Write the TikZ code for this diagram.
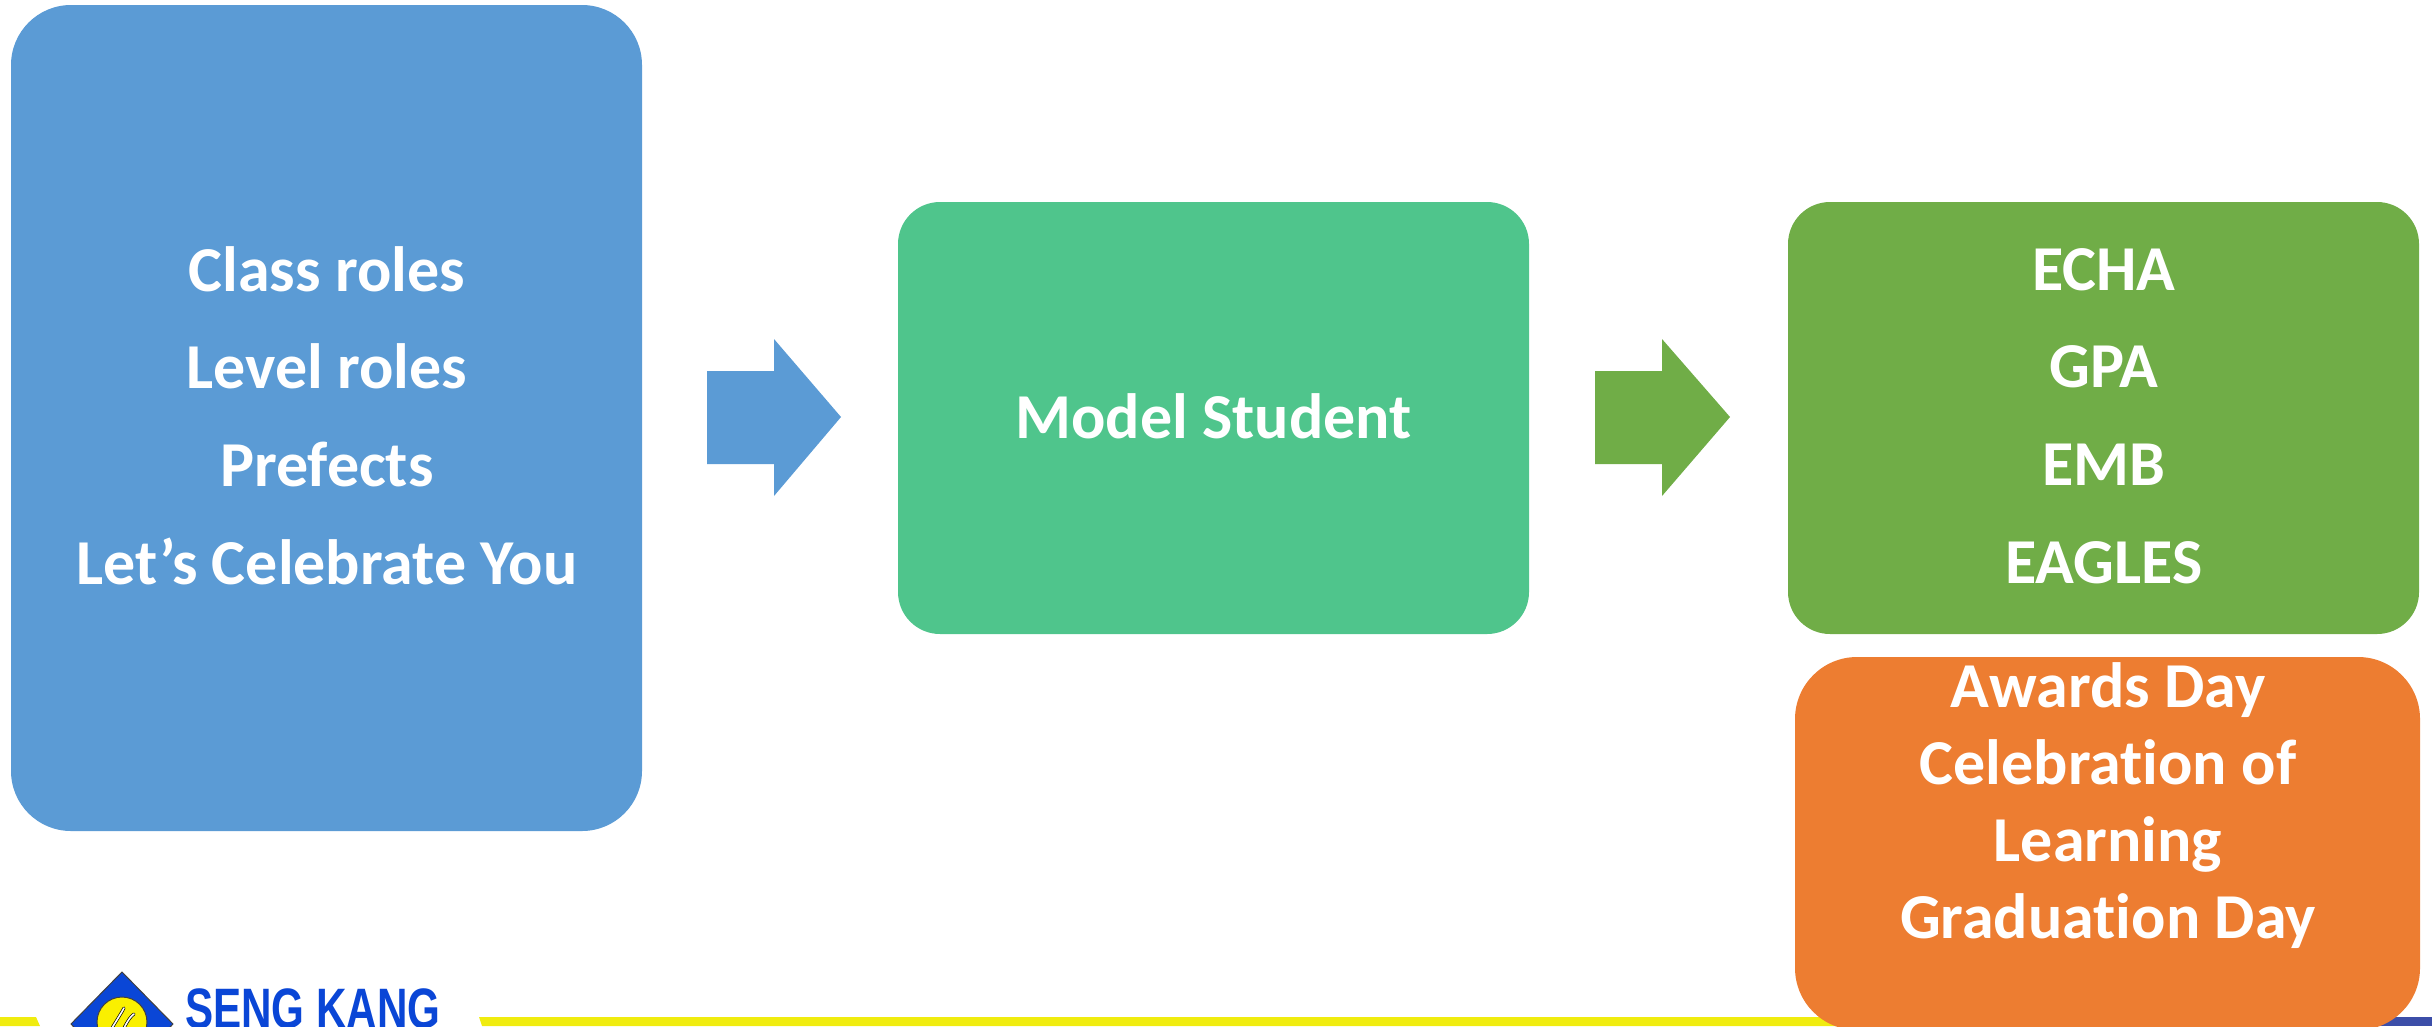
\documentclass[tikz,border=0pt]{standalone}
\usepackage{fontspec}
\setmainfont[Ligatures=NoCommon]{Carlito}
\newfontfamily\logofont{Liberation Sans}
\definecolor{cblue}{HTML}{5B9BD5}
\definecolor{cteal}{HTML}{4FC58C}
\definecolor{cgreen}{HTML}{70AD47}
\definecolor{corange}{HTML}{ED7D31}
\definecolor{cyellowbar}{HTML}{F0EC0F}
\definecolor{cnavybar}{HTML}{3C4EA8}
\definecolor{clogoblue}{HTML}{0A46D6}
\definecolor{clogoyellow}{HTML}{FAF000}
\tikzset{
  card/.style={inner sep=0pt,outer sep=0pt,anchor=north west},
  bigcard/.style={card,rounded corners=60pt,minimum width=631pt,minimum height=826pt},
  midcard/.style={card,rounded corners=42pt,minimum width=631pt,minimum height=432pt},
  label/.style={text=white,align=center,inner sep=0pt,font=\fontsize{64}{97.7}\selectfont\bfseries},
  tightlabel/.style={text=white,align=center,inner sep=0pt,font=\fontsize{64}{77}\selectfont\bfseries}
}
\begin{document}
\begin{tikzpicture}[x=1pt,y=-1pt]
\useasboundingbox (0,0) rectangle (2432,1026);
\clip (0,0) rectangle (2432,1026);
% footer bars
\fill[cyellowbar] (0,1017) -- (36,1017) -- (40,1026) -- (0,1026) -- cycle;
\fill[cyellowbar] (479,1017) -- (2300,1017) -- (2300,1026) -- (482,1026) -- cycle;
\fill[cnavybar] (2300,1017) -- (2432,1017) -- (2432,1026) -- (2300,1026) -- cycle;
% logo
\filldraw[fill=clogoblue,draw=black!75,line width=1pt] (122,972) -- (173,1024) -- (122,1076) -- (71,1024) -- cycle;
\filldraw[fill=clogoyellow,draw=black!75,line width=1pt] (122,1022) circle (25);
\draw[black,line width=3pt,line cap=round] (112,1028) .. controls (118,1018) and (122,1012) .. (124,1008);
\draw[white,line width=1.6pt,line cap=round] (112,1028) .. controls (118,1018) and (122,1012) .. (124,1008);
\draw[black,line width=3pt,line cap=round] (124,1028) .. controls (128,1020) and (131,1016) .. (134,1014);
\draw[white,line width=1.6pt,line cap=round] (124,1028) .. controls (128,1020) and (131,1016) .. (134,1014);
\node[anchor=base west,inner sep=0pt,text=clogoblue] (logotext) at (185,1028)
  {\scalebox{.74}[1]{\fontsize{57}{60}\logofont\bfseries SENG KANG}};
% cards
\node[bigcard,fill=cblue] (roles) at (11,5) {};
\node[midcard,fill=cteal] (model) at (898,202) {};
\node[midcard,fill=cgreen] (awards) at (1788,202) {};
\node[card,fill=corange,rounded corners=62pt,minimum width=625pt,minimum height=373pt] (events) at (1795,657) {};
% arrows
\fill[cblue] (707,371) -- (774,371) -- (774,339) -- (841,417) -- (774,496) -- (774,464) -- (707,464) -- cycle;
\fill[cgreen] (1595,371) -- (1662,371) -- (1662,339) -- (1730,417) -- (1662,496) -- (1662,464) -- (1595,464) -- cycle;
% texts
\node[label] (rolestext) at (327,415.5) {Class roles\\Level roles\\Prefects\\Let’s Celebrate You};
\node[label] (modeltext) at (1213.5,416) {Model Student};
\node[label] (awardstext) at (2104,416) {ECHA\\GPA\\EMB\\EAGLES};
\node[tightlabel] (eventstext) at (2108,806) {Awards Day\\Celebration of\\Learning\\Graduation Day};
\end{tikzpicture}
\end{document}
